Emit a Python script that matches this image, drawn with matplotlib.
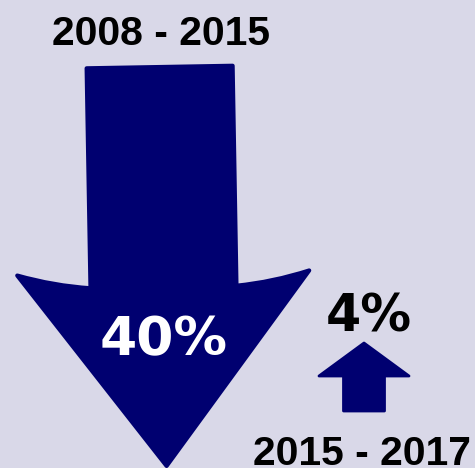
"""Infographic: change between two periods drawn as two block arrows."""
import matplotlib
matplotlib.use("Agg")
import matplotlib.pyplot as plt
from matplotlib import font_manager
from matplotlib.patches import PathPatch
from matplotlib.path import Path
from matplotlib.transforms import Affine2D

# --- data ---
periods = ["2008 - 2015", "2015 - 2017"]
changes = [40, 4]                 # percent
directions = ["down", "up"]
cut_label = "rs"                  # clipped caption at the bottom-left edge

BG = "#d9d8e8"
NAVY = "#000070"


def pick_font(candidates):
    for name in candidates:
        try:
            font_manager.findfont(name, fallback_to_default=False)
            return name
        except ValueError:
            continue
    return "DejaVu Sans"


YEAR_FONT = pick_font(["Liberation Sans Narrow", "DejaVu Sans Condensed", "Liberation Sans"])
YEAR_SIZE = 34 if YEAR_FONT != "Liberation Sans" else 29.4
PCT_FONT = "DejaVu Sans"


def arrow_path(cx, y_tail, y_tip, shaft_w, head_w, head_h, sweep=0.0, bow=0.0):
    """Block arrow in pixel coords (y down). Tip at y_tip, tail at y_tail."""
    s = 1 if y_tip > y_tail else -1          # +1 points down
    y_join = y_tip - s * head_h              # where the shaft meets the head
    y_corner = y_join - s * sweep            # barbs swept back towards the tail
    hs, hh = shaft_w / 2, head_w / 2
    mid_l = ((cx - hs + cx - hh) / 2, (y_join + y_corner) / 2 + s * bow)
    mid_r = ((cx + hs + cx + hh) / 2, (y_join + y_corner) / 2 + s * bow)
    verts = [
        (cx - hs, y_tail), (cx + hs, y_tail), (cx + hs, y_join),
        mid_r, (cx + hh, y_corner),
        (cx, y_tip),
        (cx - hh, y_corner), mid_l, (cx - hs, y_join),
        (cx - hs, y_tail),
    ]
    codes = [Path.MOVETO, Path.LINETO, Path.LINETO,
             Path.CURVE3, Path.CURVE3,
             Path.LINETO,
             Path.LINETO, Path.CURVE3, Path.CURVE3,
             Path.CLOSEPOLY]
    return Path(verts, codes)


fig = plt.figure(figsize=(4.75, 4.68), dpi=100, facecolor=BG)
ax = fig.add_axes([0, 0, 1, 1])
ax.set_xlim(0, 475)
ax.set_ylim(468, 0)
ax.set_facecolor(BG)
ax.axis("off")

# big arrow: 2008-2015
big = arrow_path(163, 67, 466, 146, 292, 179, sweep=14, bow=4)
rot = Affine2D().rotate_deg_around(163, 260, -1.0)
ax.add_patch(PathPatch(rot.transform_path(big), facecolor=NAVY, edgecolor=NAVY,
                       linewidth=3, joinstyle="round"))
ax.text(164, 340, f"{changes[0]}%", color="white", fontsize=38.5, fontweight="bold",
        family=PCT_FONT, ha="center", va="center")
ax.text(161, 45, periods[0], color="black", fontsize=YEAR_SIZE, fontweight="bold",
        family=YEAR_FONT, ha="center", va="baseline")

# small arrow: 2015-2017
small = arrow_path(364, 411, 343, 41, 90, 33)
ax.add_patch(PathPatch(small, facecolor=NAVY, edgecolor=NAVY,
                       linewidth=2, joinstyle="round"))
ax.text(369, 318, f"{changes[1]}%", color="black", fontsize=36.5, fontweight="bold",
        family=PCT_FONT, ha="center", va="center")
ax.text(362, 465, periods[1], color="black", fontsize=YEAR_SIZE, fontweight="bold",
        family=YEAR_FONT, ha="center", va="baseline")

# caption cut off by the lower edge
ax.text(-2, 465, cut_label, color="black", fontsize=YEAR_SIZE, fontweight="bold",
        family=YEAR_FONT, ha="left", va="top", clip_on=False)

fig.savefig("out.png", dpi=100, facecolor=BG)
